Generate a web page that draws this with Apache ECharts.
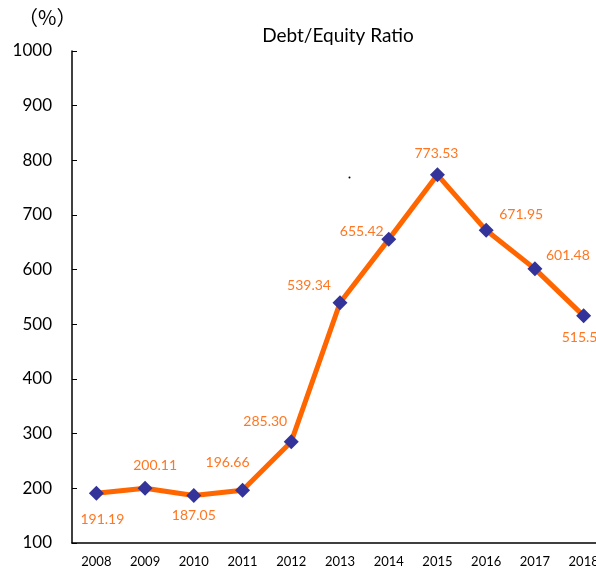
<!DOCTYPE html>
<html>
<head>
<meta charset="utf-8">
<script src="https://cdn.jsdelivr.net/npm/echarts@6/dist/echarts.min.js"></script>
<style>
html, body { margin: 0; padding: 0; background: #fff; }
#main { width: 596px; height: 575px; }
</style>
</head>
<body>
<div id="main"></div>
<script>
var years = ['2008', '2009', '2010', '2011', '2012', '2013', '2014', '2015', '2016', '2017', '2018'];
var ratio = [191.19, 200.11, 187.05, 196.66, 285.30, 539.34, 655.42, 773.53, 671.95, 601.48, 515.50];
// where each value label sits relative to its marker
var labelOffsets = [[6, 26], [10, -23], [0, 20], [-15, -28], [-26, -20], [-31, -17], [-27, -8], [-1, -21], [35, -16], [33, -13], [0, 22]];

var font = 'Lato, "Noto Sans", sans-serif';
var chart = echarts.init(document.getElementById('main'));

var points = ratio.map(function(v, i) {
	return {
		value : v,
		label : { offset : labelOffsets[i] }
	};
});

var option = {
	animation : false,
	title : {
		text : 'Debt/Equity Ratio',
		left : 333,
		top : 21,
		textAlign : 'center',
		textStyle : { fontFamily : font, fontSize : 19, fontWeight : 'normal', color : '#000' }
	},
	graphic : [ {
		type : 'text',
		left : 18,
		top : 7,
		style : { text : '（%）', fontSize : 20, fontFamily : '"Noto Sans CJK JP", sans-serif', fill : '#000' }
	}, {
		type : 'circle',
		shape : { cx : 349.5, cy : 177.5, r : 1 },
		style : { fill : '#000' }
	} ],
	grid : {
		left : 72,
		top : 51,
		bottom : 32,
		width : 536,
		outerBoundsMode : 'none'
	},
	xAxis : {
		type : 'category',
		data : years,
		boundaryGap : true,
		axisLine : { lineStyle : { color : '#000', width : 1.5 } },
		axisTick : { inside : true, length : 5, lineStyle : { color : '#000' } },
		axisLabel : { fontFamily : font, fontSize : 13, color : '#000', margin : 12 }
	},
	yAxis : {
		type : 'value',
		min : 100,
		max : 1000,
		interval : 100,
		splitLine : { show : false },
		axisLine : { show : true, lineStyle : { color : '#000', width : 1.5 } },
		axisTick : { show : true, inside : true, length : 5, lineStyle : { color : '#000' } },
		axisLabel : {
			fontFamily : font, fontSize : 17, color : '#000', margin : 20,
			formatter : function(v) { return String(v); }
		}
	},
	series : [ {
		type : 'line',
		data : points,
		symbol : 'diamond',
		symbolSize : 15,
		itemStyle : { color : '#333399' },
		lineStyle : { color : '#ff6600', width : 5 },
		label : {
			show : true,
			position : 'inside',
			fontFamily : font,
			fontSize : 14,
			color : '#ff7722',
			formatter : function(p) {
				return p.value.toFixed(2);
			}
		},
		z : 3
	} ]
};
chart.setOption(option);
</script>
</body>
</html>
